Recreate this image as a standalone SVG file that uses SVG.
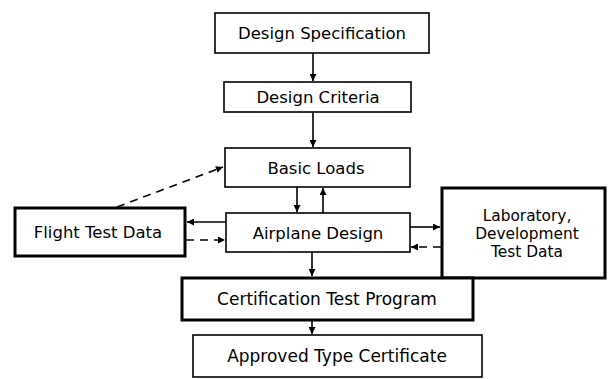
<svg xmlns="http://www.w3.org/2000/svg" width="613" height="379" viewBox="0 0 613 379">
<style>
.box{fill:#fff;stroke:#000;stroke-width:1.6}
.thick{fill:#fff;stroke:#000;stroke-width:3}
.lbl{font-family:"DejaVu Sans","Liberation Sans",Arial,sans-serif;font-size:16.5px;fill:#000;text-anchor:middle}
.sm{font-size:15.4px}
.ln{fill:none;stroke:#000;stroke-width:1.6}
.dash{stroke-dasharray:8 6}
</style>
<defs>
<marker id="ah" viewBox="0 0 10 10" refX="10" refY="5" markerWidth="9" markerHeight="7" markerUnits="userSpaceOnUse" orient="auto">
<path d="M0,0 L10,5 L0,10 Z" fill="#000"/>
</marker>
</defs>
<rect width="613" height="379" fill="#fff"/>
<g id="connectors">
<line class="ln" x1="313" y1="53" x2="313" y2="81" marker-end="url(#ah)"/>
<line class="ln" x1="313" y1="112" x2="313" y2="147" marker-end="url(#ah)"/>
<line class="ln" x1="297" y1="187" x2="297" y2="212" marker-end="url(#ah)"/>
<line class="ln" x1="323" y1="213" x2="323" y2="188" marker-end="url(#ah)"/>
<line class="ln" x1="226" y1="222" x2="187" y2="222" marker-end="url(#ah)"/>
<line class="ln dash" x1="186" y1="240" x2="225" y2="240" marker-end="url(#ah)"/>
<line class="ln dash" x1="117" y1="207" x2="223" y2="167" marker-end="url(#ah)"/>
<line class="ln" x1="410" y1="227" x2="440" y2="227" marker-end="url(#ah)"/>
<line class="ln dash" x1="441" y1="247" x2="411" y2="247" marker-end="url(#ah)"/>
<line class="ln" x1="312" y1="252" x2="312" y2="276" marker-end="url(#ah)"/>
<line class="ln" x1="312" y1="321" x2="312" y2="334" marker-end="url(#ah)"/>
</g>
<g id="design-specification">
<rect class="box" x="215" y="13" width="214" height="40"/>
<text class="lbl" x="322" y="39">Design Specification</text>
</g>
<g id="design-criteria">
<rect class="box" x="224" y="82" width="187" height="30"/>
<text class="lbl" x="318" y="103">Design Criteria</text>
</g>
<g id="basic-loads">
<rect class="box" x="225" y="148" width="185" height="39"/>
<text class="lbl" x="316" y="174">Basic Loads</text>
</g>
<g id="airplane-design">
<rect class="box" x="226" y="213" width="184" height="39"/>
<text class="lbl" x="318" y="239">Airplane Design</text>
</g>
<g id="flight-test-data">
<rect class="thick" x="15" y="208" width="170" height="48"/>
<text class="lbl" x="98" y="238">Flight Test Data</text>
</g>
<g id="laboratory-development-test-data">
<rect class="thick" x="442" y="188" width="163" height="90"/>
<text class="lbl sm" x="527" y="221">Laboratory,</text>
<text class="lbl sm" x="527" y="239">Development</text>
<text class="lbl sm" x="527" y="257">Test Data</text>
</g>
<g id="certification-test-program">
<rect class="thick" x="182" y="278" width="291" height="42"/>
<text class="lbl" x="327" y="305" style="font-size:17px">Certification Test Program</text>
</g>
<g id="approved-type-certificate">
<rect class="box" x="193" y="335" width="289" height="42"/>
<text class="lbl" x="337" y="362" style="font-size:17px">Approved Type Certificate</text>
</g>
</svg>
